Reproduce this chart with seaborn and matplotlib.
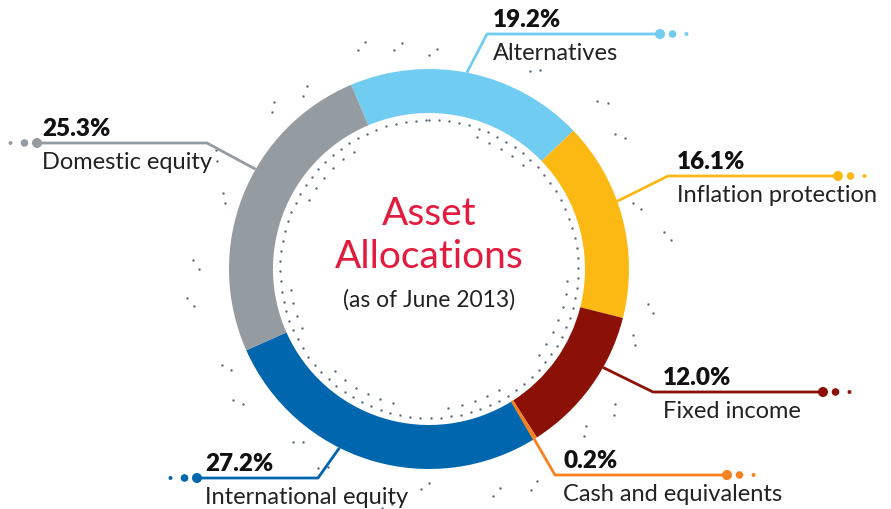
import numpy as np
import matplotlib.pyplot as plt
import seaborn as sns

# data
labels = ["Alternatives", "Inflation protection", "Fixed income",
          "Cash and equivalents", "International equity", "Domestic equity"]
shares = [19.2, 16.1, 12.0, 0.2, 27.2, 25.3]
pct_text = ["19.2%", "16.1%", "12.0%", "0.2%", "27.2%", "25.3%"]
colors = ["#71CCF2", "#FDB913", "#8B1107", "#F58220", "#0066AE", "#959CA1"]

sns.set_theme(style="white")
plt.rcParams['font.family'] = ['Lato', 'DejaVu Sans']

W, H = 891, 510
CX, CY = 429, H - 270
R_OUT, R_IN = 200, 156
DOT_COL = "#5B6B7A"


def pt(ang, r):
    # angle in degrees clockwise from 12 o'clock
    a = np.deg2rad(ang)
    return CX + r * np.sin(a), CY + r * np.cos(a)


fig = plt.figure(figsize=(8.91, 5.10), dpi=100)
ax = fig.add_axes([0, 0, 1, 1])

ax.pie(shares, colors=colors, startangle=112.9, counterclock=False,
       center=(CX, CY), radius=R_OUT,
       wedgeprops=dict(width=R_OUT - R_IN, linewidth=0))
ax.set_xlim(0, W)
ax.set_ylim(0, H)
ax.set_aspect("equal")
ax.axis("off")

# decorative dotted circles
ang = np.arange(0, 360, 3.9)
x, y = pt(ang, 149)
ax.scatter(x, y, s=3, color=DOT_COL, linewidths=0, zorder=1)
for a0, a1, r in [(195, 225, 139), (300, 330, 139), (20, 45, 140), (95, 130, 139),
                  (150, 175, 140), (245, 265, 140)]:
    aa = np.arange(a0, a1, 5.5)
    x, y = pt(aa, r)
    ax.scatter(x, y, s=3, color=DOT_COL, linewidths=0, zorder=1)
outer = np.arange(0, 360, 9)
for i, a in enumerate(outer):
    if i % 3 == 1:
        continue
    r = 214 + (i * 7) % 4 * 8
    x, y = pt(np.array([a, a + 2.2]), np.array([r, r + 6]))
    ax.scatter(x, y, s=3, color=DOT_COL, linewidths=0, zorder=1)

# leader layout: attach angle, attach radius, elbow (px), end x (px)
attach = [10.9, 70.2, 119.5, 147.8, 206.6, 299.9]
attach_r = [R_OUT, R_OUT, R_OUT, R_IN, R_OUT, R_OUT]
elbow = [(487, 35), (668, 177), (653, 393), (555, 476), (318, 479), (207, 144)]
end_x = [660, 838, 823, 727, 197, 37]
text_x = [493, 677, 663, 563, 205, 42]

for i in range(len(labels)):
    ax0, ay0 = pt(attach[i], attach_r[i])
    ex, ey = elbow[i][0], H - elbow[i][1]
    tx = end_x[i]
    ax.plot([ax0, ex, tx], [ay0, ey, ey], color=colors[i], lw=2,
            solid_capstyle="butt", zorder=3)
    d = 1 if tx > ex else -1
    sns.scatterplot(x=[tx, tx + d * 12.5, tx + d * 26.5], y=[ey] * 3,
                    size=[3, 2, 1], sizes=(8, 52), color=colors[i],
                    linewidth=0, legend=False, ax=ax, zorder=4)
    ax.text(text_x[i], ey + 4, pct_text[i], fontsize=17.5, fontweight="heavy",
            color="#111111", ha="left", va="bottom")
    ax.text(text_x[i], ey - 8, labels[i], fontsize=17,
            color="#222222", ha="left", va="top")

ax.text(CX, H - 214, "Asset", fontsize=28, color="#E31B3E", ha="center", va="center")
ax.text(CX, H - 257, "Allocations", fontsize=28, color="#E31B3E", ha="center", va="center")
ax.text(CX, H - 300, "(as of June 2013)", fontsize=16.5,
        color="#222222", ha="center", va="center")

fig.savefig("out.png", dpi=100)
